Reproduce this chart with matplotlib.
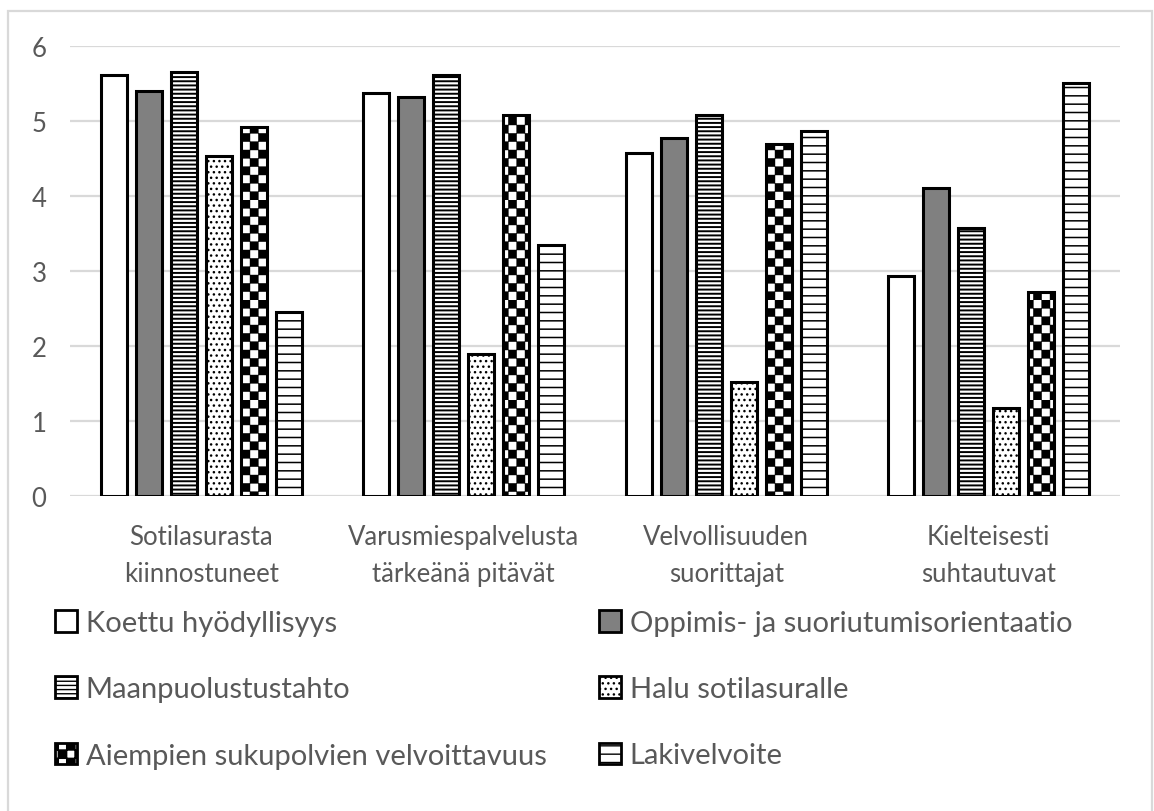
import numpy as np
import matplotlib
matplotlib.use("Agg")
import matplotlib.pyplot as plt
import matplotlib.hatch as mhatch
from matplotlib.path import Path
from matplotlib.patches import Patch, Rectangle

categories = ["Sotilasurasta\nkiinnostuneet", "Varusmiespalvelusta\ntärkeänä pitävät",
              "Velvollisuuden\nsuorittajat", "Kielteisesti\nsuhtautuvat"]
series = ["Koettu hyödyllisyys", "Oppimis- ja suoriutumisorientaatio",
          "Maanpuolustustahto", "Halu sotilasuralle",
          "Aiempien sukupolvien velvoittavuus", "Lakivelvoite"]

koettu = [5.61, 5.38, 4.57, 2.94]
oppimis = [5.40, 5.32, 4.77, 4.11]
maanpuolustus = [5.65, 5.61, 5.08, 3.57]
halu = [4.53, 1.90, 1.52, 1.17]
aiempien = [4.92, 5.08, 4.70, 2.72]
laki = [2.45, 3.35, 4.87, 5.51]
values = [koettu, oppimis, maanpuolustus, halu, aiempien, laki]

yticks = [0, 1, 2, 3, 4, 5, 6]


# checkerboard hatch, takes the place of the 'O' circles
class CheckerHatch(mhatch.HatchPatternBase):
    def __init__(self, hatch, density):
        self.cells = hatch.count('O') * density
        self.num_vertices = (self.cells ** 2 // 2) * 5

    def set_vertices_and_codes(self, vertices, codes):
        s = 1.0 / self.cells
        sq = np.array([[0, 0], [s, 0], [s, s], [0, s], [0, 0]])
        sq_codes = [Path.MOVETO, Path.LINETO, Path.LINETO, Path.LINETO, Path.CLOSEPOLY]
        k = 0
        for i in range(self.cells):
            for j in range(self.cells):
                if (i + j) % 2 == 0:
                    vertices[k:k + 5] = sq + [i * s, j * s]
                    codes[k:k + 5] = sq_codes
                    k += 5


mhatch._hatch_types = [CheckerHatch if t is mhatch.LargeCircles else t
                       for t in mhatch._hatch_types]

plt.rcParams['font.family'] = ['Lato', 'DejaVu Sans']
TEXT = "#595959"
GRID = "#d9d9d9"

faces = ["white", "#808080", "white", "white", "white", "white"]
hatches = [None, None, "----", "...", "OO", "--"]
hatch_lw = [1.0, 1.0, 1.4, 1.0, 0.3, 1.1]

fig = plt.figure(figsize=(11.54, 8.12), dpi=100)
ax = fig.add_axes([70 / 1154, 1 - 497 / 812, 1050 / 1154, 450 / 812])

x = np.arange(len(categories))
pitch = 0.1336
width = 0.099
handles = []
for i, vals in enumerate(values):
    with plt.rc_context({'hatch.linewidth': hatch_lw[i]}):
        bars = ax.bar(x + (i - 2.5) * pitch, vals, width, color=faces[i],
                      edgecolor="black", linewidth=2.2, hatch=hatches[i], zorder=3)
        for b in bars:
            if hasattr(b, "set_hatch_linewidth"):
                b.set_hatch_linewidth(hatch_lw[i])
        h = Patch(facecolor=faces[i], edgecolor="black", linewidth=2.0, hatch=hatches[i])
        if hasattr(h, "set_hatch_linewidth"):
            h.set_hatch_linewidth(hatch_lw[i])
        handles.append(h)

ax.set_xlim(-0.5, 3.5)
ax.set_ylim(0, 6)
ax.set_yticks(yticks)
ax.set_xticks(x)
ax.set_xticklabels(categories)
for t in ax.get_xticklabels():
    t.set_linespacing(1.6)
ax.tick_params(axis="both", length=0, labelsize=18.5, labelcolor=TEXT)
ax.tick_params(axis="y", pad=17)
ax.tick_params(axis="x", pad=20)
ax.grid(axis="y", color=GRID, linewidth=1.6, zorder=0)
ax.set_axisbelow(True)
for s in ax.spines.values():
    s.set_visible(False)

# legend in two columns, row-major order as in the original
leg_kw = dict(frameon=False, fontsize=21, labelcolor=TEXT, handlelength=0.75,
              handleheight=0.75, handletextpad=0.3, labelspacing=1.38,
              borderaxespad=0, borderpad=0)
leg1 = fig.legend([handles[0], handles[2], handles[4]], [series[0], series[2], series[4]],
                  loc="upper left", bbox_to_anchor=(55 / 1154, 1 - 611 / 812), **leg_kw)
leg2 = fig.legend([handles[1], handles[3], handles[5]], [series[1], series[3], series[5]],
                  loc="upper left", bbox_to_anchor=(599 / 1154, 1 - 611 / 812), **leg_kw)

# light outer frame of the chart area
fig.add_artist(Rectangle((8 / 1154, -0.05), 1144 / 1154, 1.05 - 12 / 812,
                         transform=fig.transFigure, fill=False,
                         edgecolor=GRID, linewidth=1.6))

fig.savefig("out.png", dpi=100)
